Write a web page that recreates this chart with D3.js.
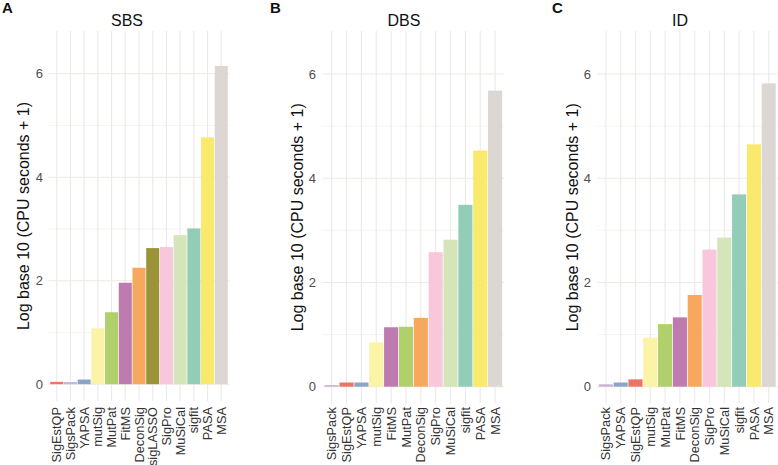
<!DOCTYPE html>
<html><head><meta charset="utf-8">
<script src="https://cdn.jsdelivr.net/npm/d3@7"></script>
<style>body{margin:0;background:#fff}svg{display:block}text{font-family:"Liberation Sans",Arial,sans-serif}</style>
</head><body><svg id="c" width="778" height="465"></svg>
<script>
// ---- data ----
const sbsTools = ["SigEstQP","SigsPack","YAPSA","mutSig","MutPat","FitMS","DeconSig","sigLASSO","SigPro","MuSiCal","sigfit","PASA","MSA"];
const sbsValues = [0.045,0.04,0.09,1.08,1.39,1.96,2.25,2.63,2.65,2.88,3.01,4.77,6.15];
const dbsTools = ["SigsPack","SigEstQP","YAPSA","mutSig","FitMS","MutPat","DeconSig","SigPro","MuSiCal","sigfit","PASA","MSA"];
const dbsValues = [0.03,0.08,0.08,0.85,1.14,1.15,1.32,2.58,2.82,3.49,4.53,5.68];
const idTools = ["SigsPack","YAPSA","SigEstQP","mutSig","MutPat","FitMS","DeconSig","SigPro","MuSiCal","sigfit","PASA","MSA"];
const idValues = [0.045,0.08,0.14,0.94,1.2,1.33,1.76,2.63,2.86,3.69,4.65,5.82];
const yTicks = [0,2,4,6];
const yMinor = [1,3,5];
const panelTitles = ["SBS","DBS","ID"];
const panelTags = ["A","B","C"];
const yTitle = "Log base 10 (CPU seconds + 1)";
const toolColors = {
  SigEstQP:"#ED7366", SigsPack:"#C8B2D4", YAPSA:"#8BA5C8", mutSig:"#FBF3A6",
  MutPat:"#B0D06C", FitMS:"#BD7BAF", DeconSig:"#F6A95E", sigLASSO:"#9B9338",
  SigPro:"#F8C7DB", MuSiCal:"#D4E5BA", sigfit:"#93CDB7", PASA:"#F9E96D", MSA:"#DDD7D3"
};

// ---- layout ----
const panels = [
  {tools:sbsTools, values:sbsValues, left:48.5, right:229.5, top:31, bottom:401, tickX:43, ytX:23, titleX:127, tagX:2},
  {tools:dbsTools, values:dbsValues, left:322.8, right:504, top:31, bottom:403.6, tickX:316, ytX:297, titleX:404, tagX:270},
  {tools:idTools, values:idValues, left:597, right:777.6, top:31, bottom:403.6, tickX:591, ytX:572, titleX:680, tagX:552}
];
const svg = d3.select("#c");

panels.forEach((p,k)=>{
  const g = svg.append("g");
  const y = d3.scaleLinear().domain([-0.325, 6.825]).range([p.bottom, p.top]);
  const pad = 0.05;
  const x = d3.scaleBand().domain(p.tools).range([p.left, p.right])
      .paddingInner(pad).paddingOuter(0.6 - (1-pad)/2);
  g.selectAll(".ymin").data(yMinor).join("line")
    .attr("x1",p.left).attr("x2",p.right).attr("y1",d=>y(d)).attr("y2",d=>y(d))
    .attr("stroke","#F4F1EF").attr("stroke-width",0.8);
  g.selectAll(".ymaj").data(yTicks).join("line")
    .attr("x1",p.left).attr("x2",p.right).attr("y1",d=>y(d)).attr("y2",d=>y(d))
    .attr("stroke","#EDE9E6").attr("stroke-width",1.1);
  g.selectAll(".xg").data(p.tools).join("line")
    .attr("x1",d=>x(d)+x.bandwidth()/2).attr("x2",d=>x(d)+x.bandwidth()/2)
    .attr("y1",p.top).attr("y2",p.bottom)
    .attr("stroke","#EDE9E6").attr("stroke-width",1.1);
  g.selectAll(".bar").data(p.tools).join("rect")
    .attr("x",d=>x(d)).attr("width",x.bandwidth())
    .attr("y",(d,i)=>y(p.values[i])).attr("height",(d,i)=>y(0)-y(p.values[i]))
    .attr("fill",d=>toolColors[d]);
  g.selectAll(".yt").data(yTicks).join("text")
    .attr("x",p.tickX).attr("y",d=>y(d)).attr("dy","0.35em")
    .attr("text-anchor","end").attr("font-size",13).attr("fill","#4D4D4D").text(d=>d);
  g.selectAll(".xl").data(p.tools).join("text")
    .attr("transform",d=>`translate(${x(d)+x.bandwidth()/2},${Math.min(p.bottom+6,407)}) rotate(-90)`)
    .attr("text-anchor","end").attr("dy","0.36em")
    .attr("font-size",12.8).attr("fill","#333").text(d=>d);
  g.append("text")
    .attr("transform",`translate(${p.ytX},${(p.top+p.bottom)/2}) rotate(-90)`)
    .attr("text-anchor","middle").attr("dy","0.35em")
    .attr("font-size",16).attr("fill","#111").text(yTitle);
  g.append("text").attr("x",p.titleX).attr("y",26).attr("text-anchor","middle")
    .attr("font-size",16).attr("fill","#111").text(panelTitles[k]);
  g.append("text").attr("x",p.tagX).attr("y",13).attr("font-size",15)
    .attr("font-weight","bold").attr("fill","#111").text(panelTags[k]);
});
</script></body></html>
